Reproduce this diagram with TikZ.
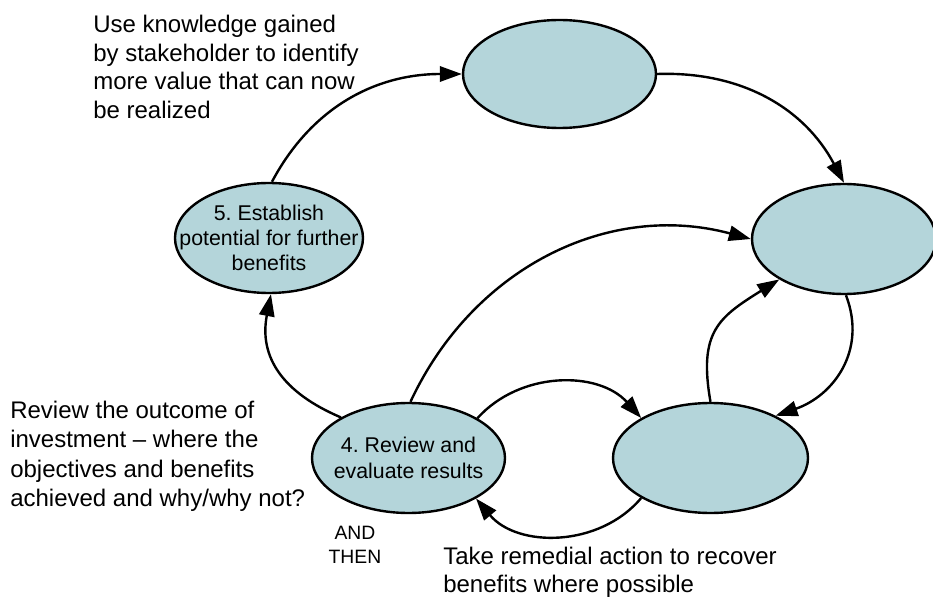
\documentclass[tikz,border=0pt]{standalone}
\usepackage{fontspec}
\setmainfont{Liberation Sans}
\usetikzlibrary{shapes.geometric,arrows.meta}
\definecolor{stagefill}{RGB}{180,213,218}
\frenchspacing
\begin{document}
\begin{tikzpicture}[x=0.75pt,y=0.75pt,
  stage/.style={ellipse, draw=black, fill=stagefill, line width=1.8pt, inner sep=0pt, minimum height=82.5pt},
  flow/.style={line width=1.8pt, -{Triangle[length=16.5pt,width=11.5pt]}},
  stagetext/.style={align=center, font=\fontsize{16}{19}\selectfont, inner sep=0pt},
  note/.style={align=left, inner sep=0pt, anchor=north west}
]
\useasboundingbox (0,0) rectangle (933,-599);

% stages of the cycle
\node[stage, minimum width=144.75pt, minimum height=81pt] (top) at (559.5,-74) {};
\node[stage, minimum width=138pt] (right) at (844,-239) {};
\node[stage, minimum width=141pt] (five) at (269,-238) {};
\node[stage, minimum width=144.75pt] (four) at (408.5,-458) {};
\node[stage, minimum width=146.25pt] (remedy) at (710.5,-458) {};

\node[stagetext] (fivetext) at (five) {5. Establish\\potential for further\\benefits};
\node[stagetext] (fourtext) at (four) {4. Review and\\evaluate results};

% connectors
\draw[flow] (five.87) to[out=62,in=180] (top.west);
\draw[flow] (top.east) to[out=2,in=118] (right.north);
\draw[flow] (right.-88) to[out=-69,in=19,looseness=1.1] (remedy.33);
\draw[flow] (remedy.north) to[out=100,in=212,looseness=1.3] (right.212);
\draw[flow] (four.88) to[out=65,in=165] (right.west);
\draw[flow] (four.30) to[out=48,in=132] (remedy.150);
\draw[flow] (remedy.210) to[out=230,in=310] (four.329);
\draw[flow] (four.149) to[out=157,in=259,looseness=1.15] (five.-88);

% notes
\node[note, font=\fontsize{18}{21.5}\selectfont] (usenote) at (93,-15)
  {Use knowledge gained\\by stakeholder to identify\\more value that can now\\be realized};
\node[note, font=\fontsize{18}{22}\selectfont] (reviewnote) at (10,-401)
  {Review the outcome of\\investment -- where the\\objectives and benefits\\achieved and why/why not?};
\node[align=center, inner sep=0pt, anchor=north, font=\fontsize{14.5}{18}\selectfont] (andthen) at (355,-526)
  {AND\\THEN};
\node[note, font=\fontsize{18}{21}\selectfont] (remedynote) at (443,-547)
  {Take remedial action to recover\\benefits where possible};
\end{tikzpicture}
\end{document}
